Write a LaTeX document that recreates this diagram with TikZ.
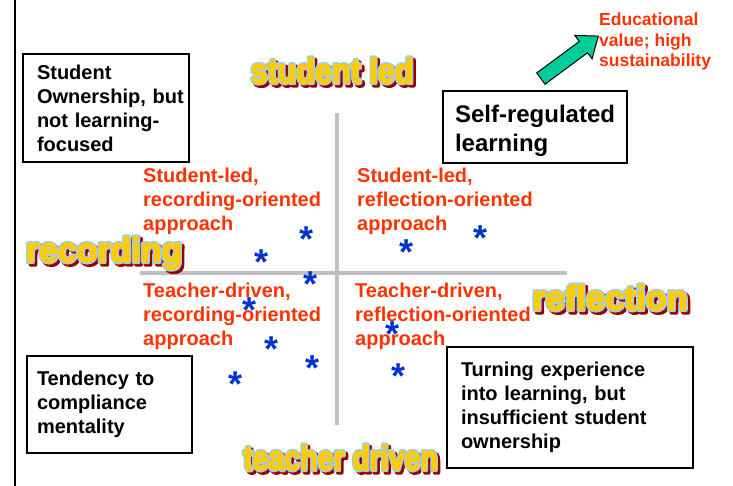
\documentclass[tikz,border=0pt]{standalone}
\usepackage{fontspec}
\setmainfont{Liberation Sans}
\usetikzlibrary{shapes.arrows}

\definecolor{redtxt}{RGB}{255,51,0}
\definecolor{astblue}{RGB}{0,51,204}
\definecolor{axisgray}{RGB}{192,192,192}
\definecolor{argreen}{RGB}{0,204,153}
\definecolor{wafill}{RGB}{255,204,0}
\definecolor{waedge}{RGB}{153,204,255}
\definecolor{washadow}{RGB}{153,0,0}

% outlined glyphs: line width, text
\newcommand\strk[2]{\special{pdf:literal direct #1 w 1 j 2 Tr}#2\special{pdf:literal direct 0 Tr}}
% word art: name, base position, horizontal squeeze, word
\newcommand\wordart[4]{%
  \node[wa, text=washadow] at ([shift={(2.5,2.5)}]#2) {\scalebox{#3}[1.1]{\strk{4}{#4}}};
  \node[wa, text=waedge] at (#2) {\scalebox{#3}[1.1]{\strk{4}{#4}}};
  \node[wa, text=wafill] (#1) at (#2) {\scalebox{#3}[1.1]{\strk{1.3}{#4}}};
}

\begin{document}
\begin{tikzpicture}[x=1pt, y=-1pt,
  box/.style={draw, line width=1.5pt, font=\fontsize{20}{24}\selectfont\bfseries,
    align=left, inner xsep=14pt, inner ysep=0pt},
  rtxt/.style={text=redtxt, font=\fontsize{20}{24}\selectfont\bfseries,
    align=left, anchor=north west, inner sep=0pt},
  ast/.style={text=astblue, font=\fontsize{36}{36}\selectfont\bfseries,
    anchor=base, inner sep=0pt, yshift=-19pt},
  wa/.style={font=\fontsize{32}{32}\selectfont\bfseries, anchor=base, inner sep=0pt},
  axis/.style={draw=axisgray, line width=4pt},
  ar/.style={single arrow, draw, fill=argreen, line width=1pt, inner xsep=0pt, inner ysep=6.5pt}
]
\useasboundingbox (0,0) rectangle (733,486);

% frame line and axes
\coordinate (lt) at (15,0);
\coordinate (lb) at (15,486);
\draw[line width=2pt] (lt) -- (lb);
\coordinate (vt) at (337,113);
\coordinate (vb) at (337,425);
\coordinate (hl) at (140,273);
\coordinate (hr) at (567,273);
\draw[axis] (vt) -- (vb);
\draw[axis] (hl) -- (hr);

% axis words
\wordart{stud}{332,83}{0.955}{student led}
\wordart{rec}{104,262}{1.06}{recording}
\wordart{refl}{610,310}{1.08}{reflection}
\wordart{teach}{340.5,470}{0.89}{teacher driven}

% corner boxes
\node[box, text width=138pt, minimum height=108pt] (own) at (106,108)
  {Student\\Ownership,~but\\not learning-\\focused};
\node[box, text width=160pt, inner xsep=12pt, minimum height=72pt,
  font=\fontsize{24}{29}\selectfont\bfseries] (srl) at (535,127)
  {\rule{0pt}{25pt}\mbox{Self-regulated}\\learning};
\node[box, text width=145pt, inner xsep=10pt, minimum height=97pt] (comp) at (109.5,404.5)
  {Tendency to\\compliance\\mentality};
\node[box, text width=218pt, minimum height=121pt] (turn) at (570,407.5)
  {Turning experience\\into learning, but\\insufficient student\\ownership};

% quadrant labels
\node[rtxt] (slrec) at (143,168) {Student-led,\\recording-oriented\\approach};
\node[rtxt] (slref) at (357,168) {Student-led,\\reflection-oriented\\approach};
\node[rtxt] (tdrec) at (143,282.5) {Teacher-driven,\\recording-oriented\\approach};
\node[rtxt] (tdref) at (355,282.5) {Teacher-driven,\\reflection-oriented\\approach};

% goal arrow
\node[ar, rotate=36.5, minimum height=71.5pt,
  single arrow head extend=7.5pt, single arrow tip angle=76] (goal) at (566,60) {};
\node[rtxt, font=\fontsize{17.5}{20.5}\selectfont\bfseries] (val) at (599,13)
  {Educational\\value; high\\sustainability};

% marks
\foreach \p [count=\i] in {(307,233),(262,256),(311,277),(250,303),(272,342),(312,361),
    (236,377),(480,232),(406,246),(392,327),(398,369)}
  \node[ast] (s\i) at \p {*};
\end{tikzpicture}
\end{document}
